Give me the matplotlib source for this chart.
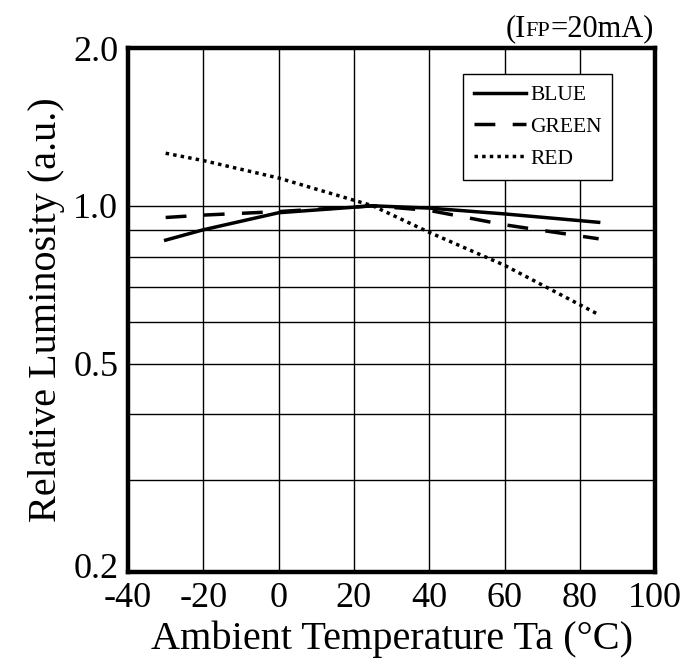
import numpy as np
import matplotlib.pyplot as plt
import matplotlib.transforms as mtransforms
from matplotlib.ticker import FixedLocator, NullFormatter
from matplotlib.offsetbox import TextArea, HPacker, AnchoredOffsetbox

plt.rcParams['font.family'] = ['Liberation Serif', 'DejaVu Serif']

# data
temp = [-30, -20, 0, 25, 40, 60, 85]
blue = [0.86, 0.90, 0.97, 1.00, 0.99, 0.965, 0.93]
green = [0.95, 0.96, 0.975, 1.00, 0.98, 0.92, 0.865]
red = [1.26, 1.22, 1.13, 1.00, 0.89, 0.77, 0.62]

xticks = [-40, -20, 0, 20, 40, 60, 80, 100]
ymajor = [0.2, 0.5, 1.0, 2.0]
ygrid = [0.2, 0.3, 0.4, 0.5, 0.6, 0.7, 0.8, 0.9, 1.0, 2.0]

fig = plt.figure(figsize=(6.86, 6.68), dpi=100)
ax = fig.add_axes([0.1866, 0.1437, 0.7684, 0.7843])

ax.set_yscale('log')
ax.set_xlim(-40, 100)
ax.set_ylim(0.2, 2.0)

for v in xticks:
    ax.axvline(v, color='black', lw=1.0, zorder=1)
for v in ygrid:
    ax.axhline(v, color='black', lw=1.0, zorder=1)

ax.plot(temp, blue, color='black', lw=2.5, label='BLUE', zorder=3)
ax.plot(temp, green, color='black', lw=2.5, dashes=(6, 5), label='GREEN', zorder=3)
ax.plot(temp, red, color='black', lw=2.5, dashes=(1, 1.2), label='RED', zorder=3)

ax.set_xticks(xticks)
ax.set_xticklabels([str(v) for v in xticks])
ax.yaxis.set_major_locator(FixedLocator(ymajor))
ax.yaxis.set_minor_locator(FixedLocator([]))
ax.yaxis.set_minor_formatter(NullFormatter())
ax.set_yticklabels(['0.2', '0.5', '1.0', '2.0'])
ax.tick_params(axis='both', length=0, labelsize=26)
ax.tick_params(axis='x', pad=7)
ax.tick_params(axis='y', pad=7)

# lift the bottom "0.2" a little so it clears "-40"
lbl = ax.get_yticklabels()[0]
lbl.set_transform(lbl.get_transform() +
                  mtransforms.ScaledTranslation(0, 5 / 72, fig.dpi_scale_trans))

for s in ax.spines.values():
    s.set_linewidth(3.2)
    s.set_zorder(4)

ax.set_xlabel('Ambient Temperature Ta (°C)', fontsize=29, labelpad=4)
ax.set_ylabel('Relative Luminosity (a.u.)', fontsize=29, labelpad=6)

leg = ax.legend(loc='upper left', bbox_to_anchor=(0.636, 0.95), fontsize=15.5,
                frameon=True, fancybox=False, edgecolor='black', framealpha=1,
                handlelength=2.4, handletextpad=0.2, borderpad=0.5,
                labelspacing=0.55, borderaxespad=0)
leg.get_frame().set_linewidth(1.0)
leg.set_zorder(5)

# title "(IFP=20mA)" with smaller FP
parts = [TextArea('(I', textprops=dict(fontsize=22)),
         TextArea('FP', textprops=dict(fontsize=16)),
         TextArea('=20mA)', textprops=dict(fontsize=22))]
box = HPacker(children=parts, align='baseline', pad=0, sep=0)
anch = AnchoredOffsetbox(loc='lower right', child=box, frameon=False,
                         bbox_to_anchor=(0.953, 0.935), bbox_transform=fig.transFigure,
                         borderpad=0, pad=0)
fig.add_artist(anch)

fig.savefig('out.png', dpi=100)
